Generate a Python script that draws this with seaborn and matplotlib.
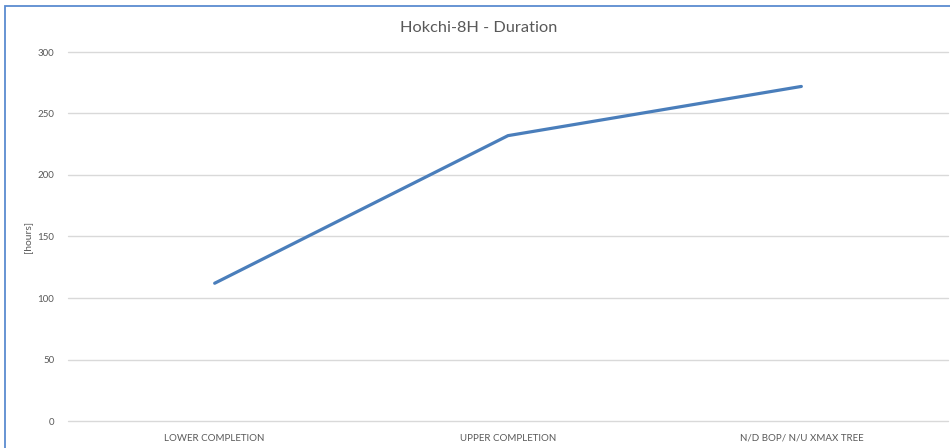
import matplotlib
matplotlib.use("Agg")
import matplotlib.pyplot as plt
import seaborn as sns
import pandas as pd
from matplotlib.patches import Rectangle

categories = ["LOWER COMPLETION", "UPPER COMPLETION", "N/D BOP/ N/U XMAX TREE"]
hours = [112, 232, 272]
y_ticks = [0, 50, 100, 150, 200, 250, 300]
title = "Hokchi-8H - Duration"
y_label = "[hours]"

sns.set_theme(style="white")
plt.rcParams['font.family'] = ['Lato', 'DejaVu Sans']

df = pd.DataFrame({"stage": categories, "hours": hours})

fig = plt.figure(figsize=(9.5, 4.48), dpi=100)
ax = fig.add_axes([68/950, 27/448, 880/950, 369/448])

sns.lineplot(data=df, x="stage", y="hours", ax=ax, color="#4a7ebb",
             linewidth=2.3, sort=False, solid_capstyle="round")

ax.set_xlim(-0.5, 2.5)
ax.set_ylim(0, 300)
ax.set_yticks(y_ticks)
ax.yaxis.grid(True, color="#d9d9d9", linewidth=1.0)
for gl in ax.get_ygridlines():
    gl.set_clip_on(False)
ax.xaxis.grid(False)
for s in ax.spines.values():
    s.set_visible(False)
ax.tick_params(axis="y", length=0, pad=10, labelsize=7, labelcolor="#595959")
ax.tick_params(axis="x", length=0, pad=9, labelsize=7, labelcolor="#595959")
ax.set_xlabel("")
ax.set_ylabel(y_label, fontsize=7.5, color="#595959")
ax.yaxis.set_label_coords(-36/880, 0.5)

fig.text(479/950, 1 - 28/448, title, ha="center", va="center",
         fontsize=11.8, color="#595959")

# chart border
fig.patches.append(Rectangle((5/950, -0.05), 1.1, 1 - 6/448 + 0.05,
                             transform=fig.transFigure, fill=False,
                             edgecolor="#5b8bd0", linewidth=1.3))

fig.savefig("out.png", dpi=100)
